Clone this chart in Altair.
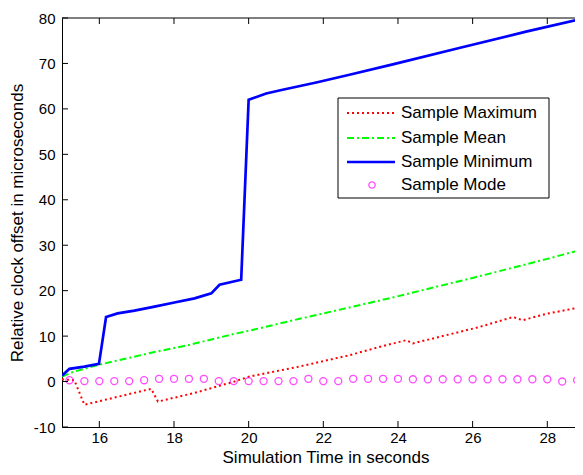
import altair as alt
import pandas as pd

FONT = "Liberation Sans"

# ---- data ----
max_t = [15.0, 15.33, 15.6, 17.39, 17.57, 18.55, 19.62, 20.02, 21.36, 22.7, 23.5, 24.22, 24.4, 25.29, 26.18, 27.08, 27.34, 27.97, 28.86, 29.0]
max_v = [0.5, 0.3, -5.1, -1.6, -4.4, -2.5, 0.0, 1.1, 3.3, 5.8, 7.6, 9.1, 8.4, 10.2, 12.0, 14.2, 13.5, 14.9, 16.3, 16.6]

mean_t = [15.0, 15.33, 15.99, 17.48, 18.37, 19.62, 20.02, 21.36, 22.7, 23.86, 25.0, 26.0, 27.0, 28.0, 29.0]
mean_v = [1.1, 2.2, 3.7, 6.5, 8.0, 10.5, 11.2, 13.8, 16.3, 18.5, 20.8, 22.8, 24.9, 27.0, 29.2]

min_t = [15.0, 15.2, 15.6, 15.99, 16.18, 16.49, 16.94, 17.48, 18.01, 18.55, 19.0, 19.22, 19.8, 20.0, 20.47, 20.91, 21.81, 22.7, 23.86, 25.64, 27.43, 28.91, 29.0]
min_v = [1.3, 2.8, 3.3, 3.9, 14.2, 15.0, 15.6, 16.5, 17.4, 18.3, 19.4, 21.3, 22.4, 62.0, 63.4, 64.2, 65.8, 67.5, 69.8, 73.4, 77.0, 79.8, 80.0]

mode_t = [15.2, 15.6, 16.0, 16.4, 16.8, 17.2, 17.6, 18.0, 18.4, 18.8, 19.2, 19.6, 20.0, 20.4, 20.8,
          21.2, 21.6, 22.0, 22.4, 22.8, 23.2, 23.6, 24.0, 24.4, 24.8, 25.2, 25.6, 26.0, 26.4, 26.8,
          27.2, 27.6, 28.0, 28.4, 28.8]
mode_v = [0.3, 0.1, 0.1, 0.1, 0.1, 0.3, 0.6, 0.6, 0.6, 0.6, 0.1, 0.1, 0.1, 0.1, 0.1,
          0.1, 0.6, 0.1, 0.1, 0.6, 0.6, 0.6, 0.6, 0.5, 0.5, 0.5, 0.5, 0.5, 0.5, 0.5,
          0.5, 0.5, 0.5, 0.0, 0.3]

series_names = ["Sample Maximum", "Sample Mean", "Sample Minimum", "Sample Mode"]
x_ticks = [16, 18, 20, 22, 24, 26, 28]
y_ticks = [-10, 0, 10, 20, 30, 40, 50, 60, 70, 80]

# the reference's plot box runs past the right edge of the picture; keep its
# x scale (about 37.3 px per second) and show the part that fits
W, H = 513, 409
X_MIN, X_MAX = 15, 15 + W / 37.33

x_scale = alt.Scale(domain=[X_MIN, X_MAX], nice=False, zero=False)
y_scale = alt.Scale(domain=[-10, 80], nice=False, zero=False)

x_axis = alt.Axis(values=x_ticks, title="Simulation Time in seconds", ticks=False, grid=False,
                  domainColor="black", labelFontSize=15, titleFontSize=17, labelPadding=3,
                  labelFont=FONT, titleFont=FONT, titleFontWeight="normal",
                  labelColor="black", titleColor="black", labelFlush=False,
                  titleBaseline="alphabetic", titleY=35, titleX=W / 2 + 7, titleAlign="center")
y_axis = alt.Axis(values=y_ticks, title="Relative clock offset in microseconds", ticks=False, grid=False,
                  domainColor="black", labelFontSize=15, titleFontSize=17, labelPadding=7,
                  labelFont=FONT, titleFont=FONT, titleFontWeight="normal",
                  labelColor="black", titleColor="black", labelFlush=False,
                  labelExpr="'' + datum.value",
                  titleAngle=-90, titleBaseline="middle", titleAlign="center",
                  titleX=-45, titleY=H / 2)

X = lambda f: alt.X(f, type="quantitative", scale=x_scale, axis=x_axis)
Y = lambda f: alt.Y(f, type="quantitative", scale=y_scale, axis=y_axis)

df_max = pd.DataFrame({"t": max_t, "v": max_v})
df_mean = pd.DataFrame({"t": mean_t, "v": mean_v})
df_min = pd.DataFrame({"t": min_t, "v": min_v})
df_mode = pd.DataFrame({"t": mode_t, "v": mode_v})
df_xt = pd.DataFrame({"t": x_ticks})
df_yt = pd.DataFrame({"v": y_ticks})

line_max = alt.Chart(df_max).mark_line(color="#ff0000", strokeWidth=2, strokeDash=[2, 3], clip=True).encode(x=X("t"), y=Y("v"))
line_mean = alt.Chart(df_mean).mark_line(color="#00ff00", strokeWidth=2, strokeDash=[7, 3, 2, 3], clip=True).encode(x=X("t"), y=Y("v"))
line_min = alt.Chart(df_min).mark_line(color="#0000ff", strokeWidth=2.7, clip=True).encode(x=X("t"), y=Y("v"))
pts_mode = alt.Chart(df_mode).mark_point(shape="circle", size=50, color="#ff00ff", strokeWidth=1.3,
                                         filled=False, clip=True).encode(x=X("t"), y=Y("v"))

# inward tick marks (top, bottom, left) and the top edge of the box
tick_bottom = alt.Chart(df_xt).mark_rule(color="black", strokeWidth=1).encode(x=X("t"), y=alt.value(H), y2=alt.value(H - 6))
tick_top = alt.Chart(df_xt).mark_rule(color="black", strokeWidth=1).encode(x=X("t"), y=alt.value(0), y2=alt.value(6))
tick_left = alt.Chart(df_yt).mark_rule(color="black", strokeWidth=1).encode(y=Y("v"), x=alt.value(0), x2=alt.value(6))

one = pd.DataFrame({"k": [0]})
top_edge = alt.Chart(one).mark_rule(color="black", strokeWidth=1).encode(
    x=alt.value(0), x2=alt.value(W), y=alt.value(0))

# legend box
lg_box = alt.Chart(one).mark_rect(fill="white", stroke="black", strokeWidth=1).encode(
    x=alt.value(276), x2=alt.value(487), y=alt.value(80), y2=alt.value(180))
rows = [95, 120, 144, 167]
lg_max = alt.Chart(one).mark_rule(color="#ff0000", strokeWidth=2, strokeDash=[2, 3]).encode(
    x=alt.value(285), x2=alt.value(333), y=alt.value(rows[0]))
lg_mean = alt.Chart(one).mark_rule(color="#00ff00", strokeWidth=2, strokeDash=[7, 3, 2, 3]).encode(
    x=alt.value(285), x2=alt.value(333), y=alt.value(rows[1]))
lg_min = alt.Chart(one).mark_rule(color="#0000ff", strokeWidth=2.7).encode(
    x=alt.value(285), x2=alt.value(333), y=alt.value(rows[2]))
lg_mode = alt.Chart(one).mark_point(shape="circle", size=40, color="#ff00ff", strokeWidth=1.3, filled=False).encode(
    x=alt.value(310), y=alt.value(rows[3]))
lg_texts = [
    alt.Chart(one).mark_text(align="left", baseline="middle", font=FONT, fontSize=17, color="black").encode(
        x=alt.value(339), y=alt.value(r), text=alt.value(name))
    for name, r in zip(series_names, rows)
]

chart = alt.layer(
    line_max, line_mean, line_min, pts_mode,
    tick_bottom, tick_top, tick_left, top_edge,
    lg_box, lg_max, lg_mean, lg_min, lg_mode, *lg_texts
).properties(
    width=W, height=H,
    autosize=alt.AutoSizeParams(type="none"),
    padding={"left": 54, "top": 10, "right": 0, "bottom": 40},
    background="white",
).configure_view(stroke=None)

chart.save("out.html", embed_options={"renderer": "svg", "actions": False})
